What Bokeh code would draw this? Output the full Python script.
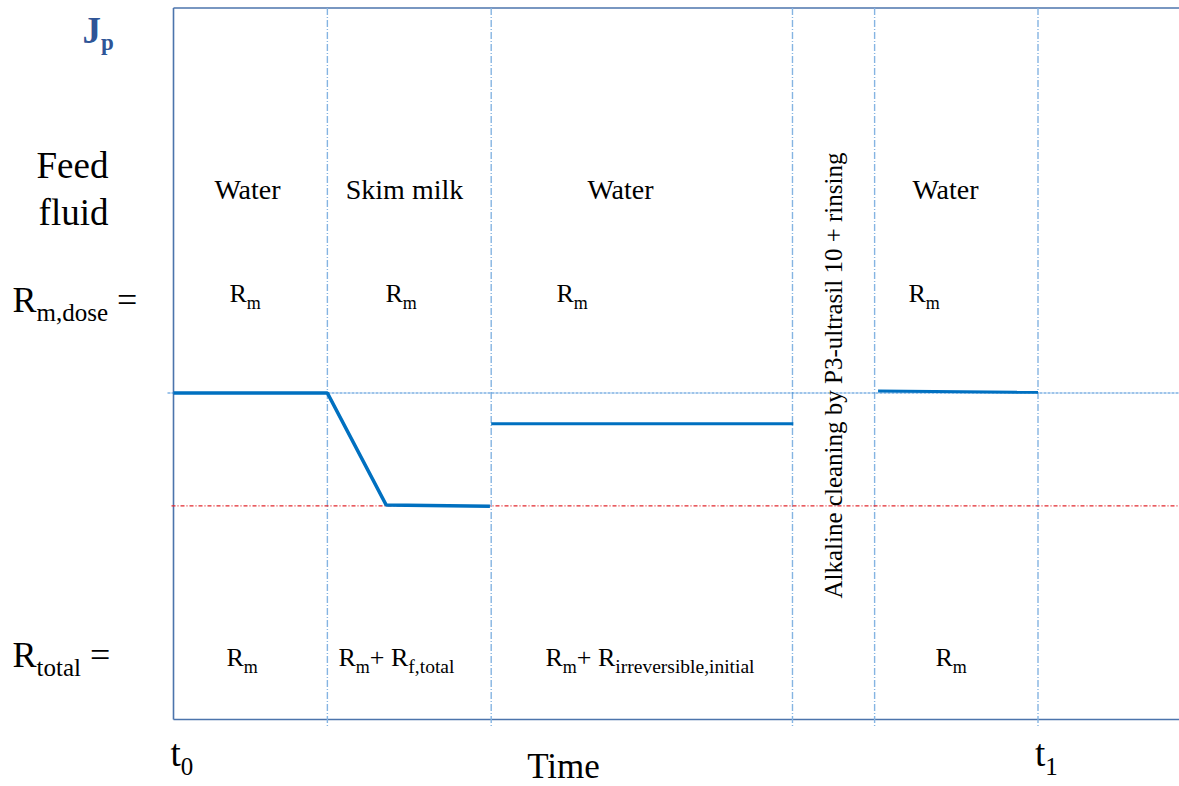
from math import pi
from bokeh.plotting import figure
from bokeh.models import Range1d, ColumnDataSource
from bokeh.embed import file_html
from bokeh.resources import INLINE
from bokeh.core.properties import value

# ---------------- data ----------------
# time in arbitrary units: t0 = 0, t1 = 100
phase_names = ["Water", "Skim milk", "Water",
               "Alkaline cleaning by P3-ultrasil 10 + rinsing", "Water"]
phase_bounds = [0.0, 17.8, 36.75, 71.6, 81.1, 100.0]
t_labels = ["0", "1"]            # subscripts of t at t0 / t1
t_ticks = [0.0, 100.0]

# normalised permeate flux Jp (initial water flux = 1)
J_initial = 1.0
J_fouled = 0.654
seg_time = [[0.0, 17.8, 24.6, 36.6], [36.75, 71.7], [81.5, 100.0]]
seg_flux = [[1.0, 1.0, 0.657, 0.653], [0.906, 0.906], [1.006, 1.002]]
seg_width = [3.6, 3.0, 3.0]

# ---------------- layout ----------------
W, H = 1179, 786            # canvas
OX, OY = 173, 719           # canvas pixel of (t0, J=0)
PX = (1037.5 - 173) / 100.0  # px per time unit
PY = (719 - 392.5) / 1.0     # px per flux unit
def xd(px): return (px - OX) / PX
def yd(py): return (OY - py) / PY

x0, x1 = xd(0), xd(W)
y0, y1 = yd(H), yd(0)
J_top = yd(7.5)

p = figure(width=W, height=H, x_range=Range1d(x0, x1), y_range=Range1d(y0, y1),
           x_axis_type=None, y_axis_type=None, toolbar_location=None,
           output_backend="svg", min_border=0, outline_line_color=None,
           background_fill_color="white", border_fill_color="white")
p.grid.visible = False

FONT = value("Liberation Serif")
BASE_FIX = 0.4   # renderer places alphabetic baseline ~0.4em lower

# frame lines (left, top, bottom)
frame_col = "#4C74AC"
p.segment(x0=[0, 0, 0], y0=[0, J_top, 0], x1=[0, x1, x1], y1=[J_top, J_top, 0],
          line_color=frame_col, line_width=1.6)

# phase boundaries
vb = phase_bounds[1:]
p.segment(x0=vb, y0=[J_top] * len(vb), x1=vb, y1=[yd(726)] * len(vb),
          line_color="#85B4E2", line_width=1.4, line_dash="7 2 1 2")

# reference flux levels
p.segment(x0=[xd(167)], y0=[J_initial], x1=[x1], y1=[J_initial],
          line_color="#3F8AD6", line_width=1.2, line_dash="3 1")
p.segment(x0=[xd(171)], y0=[J_fouled], x1=[x1], y1=[J_fouled],
          line_color="#E2282E", line_width=1.2, line_dash="4 2 1 2")

# flux curve
for ts, js, lw in zip(seg_time, seg_flux, seg_width):
    p.line(ts, js, line_color="#0070C0", line_width=lw)

# ---------------- texts ----------------
TIMES = {' ': 250, '+': 564, ',': 250, '-': 333, '=': 564, '0': 500, '1': 500,
         '3': 500, 'R': 667, 'T': 611, 'F': 556, 'W': 944, 'S': 556, 'P': 556,
         'A': 722, 'a': 444, 'b': 500, 'c': 444, 'd': 500, 'e': 444, 'f': 333,
         'g': 500, 'h': 500, 'i': 278, 'k': 500, 'l': 278, 'm': 778, 'n': 500,
         'o': 500, 'p': 500, 'r': 333, 's': 389, 't': 278, 'u': 500, 'v': 500,
         'y': 500}
TIMES_BOLD = {'J': 500, 'p': 556}

def tw(s, size, bold=False):
    tab = TIMES_BOLD if bold else {}
    return sum(tab.get(c, TIMES.get(c, 500)) for c in s) * size / 1000.0

T = dict(x=[], y=[], text=[], size=[], style=[], color=[], align=[])
def add(xpx, ypx, txt, size, style="normal", color="black", align="left"):
    T["x"].append(xd(xpx)); T["y"].append(yd(ypx - BASE_FIX * size))
    T["text"].append(txt)
    T["size"].append(f"{size}px"); T["style"].append(style)
    T["color"].append(color); T["align"].append(align)

def rich(left, base, pieces, main, sub, drop, style="normal", color="black"):
    """pieces: (text, kind) with kind 0 = main, 1 = subscript, or a size."""
    x = left
    for txt, kind in pieces:
        if kind == 0:
            s, dy = main, 0
        elif kind == 1:
            s, dy = sub, drop
        else:
            s, dy = kind, drop
        lead = len(txt) - len(txt.lstrip(" "))
        x += tw(" " * lead, s)
        body = txt.lstrip(" ")
        add(x, base + dy, body, s, style, color)
        x += tw(body, s, style == "bold")

# left column
rich(82, 45, [("J", 0), ("p", 1)], 37, 23, 6, "bold", "#2F5597")
add(72, 180, "Feed", 37, align="center")
add(73, 227, "fluid", 37, align="center")
rich(12, 314, [("R", 0), ("m,dose", 1), (" =", 0)], 36, 25, 8)
rich(12, 669, [("R", 0), ("total", 1), (" =", 0)], 36, 25, 8)

# phase names
name_cx = [247, 404, 620, None, 945]
for nm, cx in zip(phase_names, name_cx):
    if cx is not None:
        add(cx, 200, nm, 28, align="center")

# R_m,dose row
for lx in [229, 385, 556, 908]:
    rich(lx, 303, [("R", 0), ("m", 1)], 26, 18, 7)

# R_total row
rich(226, 667, [("R", 0), ("m", 1)], 26, 18, 7)
rich(338, 667, [("R", 0), ("m", 1), ("+ R", 0), ("f,total", 19.5)], 26, 18, 7)
rich(545, 667, [("R", 0), ("m", 1), ("+ R", 0), ("irreversible,initial", 19.5)], 26, 18, 7)
rich(935, 667, [("R", 0), ("m", 1)], 26, 18, 7)

# time axis labels
for tt, sub in zip(t_ticks, t_labels):
    lx = OX + tt * PX - 3
    rich(lx, 768, [("t", 0), (sub, 1)], 37, 25, 8)
add(563, 780, "Time", 35, align="center")

src = ColumnDataSource(T)
p.text(x="x", y="y", text="text", source=src, text_font=FONT,
       text_font_size="size", text_font_style="style", text_color="color",
       text_align="align", text_baseline="alphabetic")

# rotated cleaning-phase label
ROT = 25
p.text(x=[xd(843 - BASE_FIX * ROT)], y=[yd(375)], text=[phase_names[3]], angle=pi / 2,
       text_font=FONT, text_font_size=f"{ROT}px", text_color="black",
       text_align="center", text_baseline="alphabetic")

open("out.html", "w").write(file_html(p, INLINE))
